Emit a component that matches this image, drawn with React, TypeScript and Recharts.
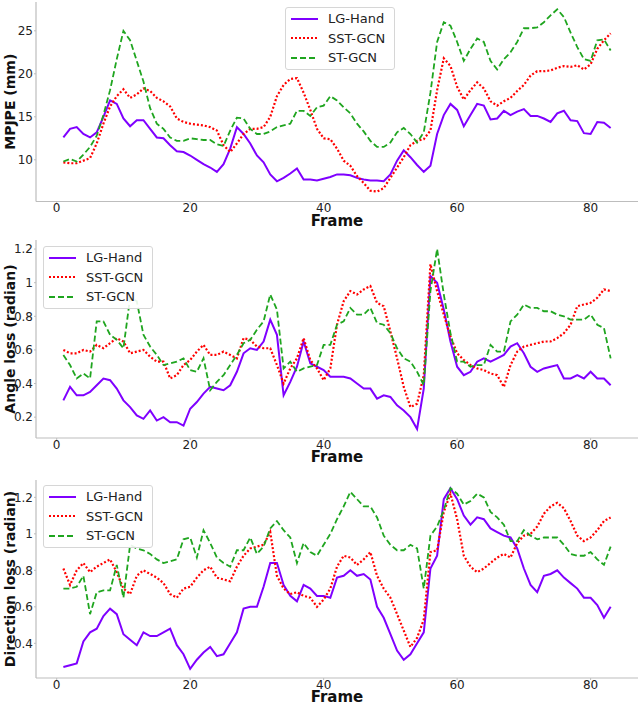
import React from 'react';
import { LineChart, Line, XAxis, YAxis, Legend } from 'recharts';

const frames = [
  1, 2, 3, 4, 5, 6, 7, 8, 9, 10, 11, 12, 13, 14, 15, 16, 17, 18, 19, 20,
  21, 22, 23, 24, 25, 26, 27, 28, 29, 30, 31, 32, 33, 34, 35, 36, 37, 38, 39, 40,
  41, 42, 43, 44, 45, 46, 47, 48, 49, 50, 51, 52, 53, 54, 55, 56, 57, 58, 59, 60,
  61, 62, 63, 64, 65, 66, 67, 68, 69, 70, 71, 72, 73, 74, 75, 76, 77, 78, 79, 80,
  81, 82, 83,
];
const xTicks = [0, 20, 40, 60, 80];

// MPJPE (mm)
const mpjpeLG = [
  12.6, 13.6, 13.8, 13.0, 12.6, 13.2, 15.0, 16.9, 16.5, 14.8,
  13.9, 14.6, 14.6, 13.6, 12.6, 12.5, 11.7, 11.0, 10.9, 10.5,
  10.0, 9.5, 9.1, 8.6, 9.5, 11.3, 13.8, 13.0, 11.9, 10.5,
  9.7, 8.3, 7.5, 7.9, 8.4, 9.0, 7.7, 7.7, 7.6, 7.8,
  8.0, 8.3, 8.3, 8.2, 7.9, 7.7, 7.6, 7.6, 7.5, 8.3,
  9.9, 11.1, 10.3, 9.4, 8.6, 9.3, 13.0, 15.2, 16.5, 15.8,
  13.9, 15.2, 16.5, 16.3, 14.7, 14.8, 15.7, 15.2, 15.6, 15.9,
  15.1, 15.1, 14.8, 14.4, 15.4, 15.7, 14.6, 14.5, 13.1, 13.0,
  14.4, 14.3, 13.7,
];
const mpjpeSST = [
  9.7, 9.6, 9.6, 9.9, 10.2, 11.9, 14.2, 16.2, 17.4, 18.2,
  17.2, 17.6, 18.3, 18.0, 17.2, 16.8, 16.2, 14.8, 14.4, 14.2,
  14.1, 14.0, 13.8, 13.4, 11.7, 10.9, 11.9, 13.0, 13.6, 13.6,
  13.8, 15.0, 17.4, 18.7, 19.4, 19.5, 17.8, 15.8, 13.6, 12.5,
  12.4, 11.3, 9.9, 9.3, 8.1, 7.3, 6.4, 6.3, 6.7, 7.9,
  9.1, 10.3, 11.7, 12.2, 12.4, 13.4, 18.1, 21.8, 20.9, 18.5,
  17.0, 18.1, 19.0, 18.3, 16.8, 16.3, 16.8, 17.2, 18.0, 18.7,
  19.8, 20.3, 20.3, 20.4, 20.7, 20.9, 20.8, 21.0, 20.5, 21.1,
  22.9, 23.9, 24.7,
];
const mpjpeST = [
  9.8, 10.1, 9.8, 10.6, 11.5, 12.8, 15.2, 18.1, 21.7, 25.0,
  23.9, 21.5, 19.1, 16.0, 14.2, 13.6, 12.6, 12.2, 12.2, 12.5,
  12.4, 12.3, 12.3, 11.8, 11.6, 13.4, 14.9, 14.8, 13.6, 13.0,
  13.0, 13.3, 13.8, 14.0, 14.2, 15.7, 15.7, 15.1, 16.1, 16.3,
  17.4, 16.9, 16.1, 15.4, 14.2, 13.3, 12.2, 11.5, 11.5, 12.0,
  13.2, 13.7, 13.0, 12.0, 13.2, 17.8, 23.7, 26.0, 25.6, 23.7,
  21.5, 22.9, 24.1, 23.7, 21.5, 20.5, 21.7, 22.5, 23.7, 25.3,
  25.3, 25.4, 26.0, 26.8, 27.5, 26.6, 24.8, 23.1, 21.7, 21.5,
  23.9, 24.0, 22.7,
];

// Angle loss (radian)
const angleLG = [
  0.30, 0.38, 0.33, 0.33, 0.35, 0.39, 0.43, 0.42, 0.37, 0.30,
  0.26, 0.21, 0.19, 0.24, 0.18, 0.20, 0.17, 0.17, 0.15, 0.25,
  0.29, 0.34, 0.38, 0.37, 0.36, 0.39, 0.47, 0.58, 0.61, 0.60,
  0.65, 0.78, 0.69, 0.33, 0.41, 0.50, 0.65, 0.52, 0.50, 0.48,
  0.44, 0.44, 0.44, 0.43, 0.40, 0.37, 0.37, 0.31, 0.33, 0.32,
  0.27, 0.24, 0.20, 0.13, 0.37, 1.04, 1.00, 0.84, 0.65, 0.50,
  0.45, 0.47, 0.53, 0.55, 0.53, 0.55, 0.57, 0.62, 0.64, 0.58,
  0.50, 0.47, 0.49, 0.50, 0.51, 0.43, 0.43, 0.45, 0.43, 0.47,
  0.43, 0.43, 0.39,
];
const angleSST = [
  0.60, 0.58, 0.58, 0.60, 0.59, 0.63, 0.61, 0.64, 0.67, 0.65,
  0.58, 0.59, 0.60, 0.56, 0.53, 0.53, 0.43, 0.45, 0.51, 0.54,
  0.59, 0.63, 0.57, 0.57, 0.59, 0.57, 0.55, 0.67, 0.66, 0.62,
  0.61, 0.61, 0.51, 0.40, 0.49, 0.55, 0.67, 0.54, 0.49, 0.42,
  0.49, 0.75, 0.89, 0.95, 0.93, 0.96, 0.98, 0.88, 0.86, 0.71,
  0.55, 0.38, 0.26, 0.28, 0.45, 1.11, 0.95, 0.81, 0.68, 0.58,
  0.54, 0.51, 0.49, 0.48, 0.46, 0.45, 0.38, 0.51, 0.59, 0.62,
  0.63, 0.64, 0.65, 0.65, 0.67, 0.70, 0.75, 0.86, 0.87, 0.88,
  0.91, 0.96, 0.95,
];
const angleST = [
  0.57, 0.51, 0.43, 0.46, 0.43, 0.77, 0.77, 0.69, 0.66, 0.61,
  0.91, 0.89, 0.69, 0.62, 0.57, 0.51, 0.52, 0.53, 0.55, 0.48,
  0.47, 0.55, 0.36, 0.41, 0.45, 0.51, 0.57, 0.64, 0.66, 0.72,
  0.77, 0.93, 0.84, 0.49, 0.53, 0.47, 0.49, 0.50, 0.51, 0.63,
  0.63, 0.75, 0.77, 0.85, 0.81, 0.81, 0.85, 0.76, 0.75, 0.70,
  0.61, 0.55, 0.53, 0.47, 0.39, 0.95, 1.20, 0.93, 0.70, 0.53,
  0.53, 0.50, 0.51, 0.51, 0.63, 0.59, 0.59, 0.77, 0.81, 0.87,
  0.85, 0.85, 0.83, 0.83, 0.81, 0.80, 0.78, 0.78, 0.78, 0.81,
  0.75, 0.73, 0.55,
];

// Direction loss (radian)
const dirLG = [
  0.27, 0.28, 0.29, 0.41, 0.46, 0.48, 0.55, 0.59, 0.56, 0.45,
  0.42, 0.39, 0.46, 0.44, 0.44, 0.46, 0.48, 0.39, 0.34, 0.26,
  0.31, 0.35, 0.38, 0.33, 0.34, 0.40, 0.46, 0.59, 0.60, 0.60,
  0.71, 0.84, 0.84, 0.72, 0.66, 0.63, 0.72, 0.70, 0.66, 0.66,
  0.65, 0.76, 0.77, 0.80, 0.77, 0.78, 0.75, 0.60, 0.54, 0.45,
  0.36, 0.31, 0.34, 0.40, 0.46, 0.81, 0.88, 1.19, 1.25, 1.19,
  1.10, 1.05, 1.09, 1.08, 1.03, 1.01, 0.99, 0.98, 0.92, 0.81,
  0.72, 0.68, 0.77, 0.78, 0.80, 0.76, 0.73, 0.70, 0.65, 0.65,
  0.61, 0.54, 0.60,
];
const dirSST = [
  0.81, 0.72, 0.80, 0.84, 0.79, 0.82, 0.84, 0.86, 0.79, 0.70,
  0.67, 0.77, 0.80, 0.78, 0.76, 0.73, 0.67, 0.65, 0.70, 0.71,
  0.76, 0.80, 0.82, 0.76, 0.75, 0.74, 0.82, 0.88, 0.92, 0.93,
  0.94, 1.01, 0.77, 0.70, 0.67, 0.68, 0.66, 0.65, 0.60, 0.64,
  0.70, 0.82, 0.88, 0.87, 0.83, 0.86, 0.90, 0.77, 0.70, 0.65,
  0.56, 0.47, 0.38, 0.43, 0.53, 0.90, 0.91, 1.12, 1.22, 1.08,
  0.88, 0.82, 0.79, 0.81, 0.84, 0.87, 0.89, 0.87, 0.95, 0.99,
  1.00, 1.04, 1.11, 1.15, 1.17, 1.14, 1.07, 0.99, 0.96, 0.98,
  1.02, 1.07, 1.09,
];
const dirST = [
  0.70, 0.70, 0.71, 0.77, 0.56, 0.68, 0.69, 0.69, 0.83, 0.65,
  0.94, 0.92, 0.91, 0.89, 0.86, 0.84, 0.85, 0.86, 0.97, 0.98,
  0.87, 1.02, 0.95, 0.87, 0.84, 0.82, 0.91, 0.91, 0.98, 0.89,
  0.93, 1.03, 1.07, 1.02, 0.98, 0.84, 0.95, 0.90, 0.88, 0.94,
  1.00, 1.08, 1.15, 1.23, 1.19, 1.15, 1.15, 1.09, 0.99, 0.94,
  0.91, 0.91, 0.94, 0.92, 0.70, 0.99, 1.04, 1.13, 1.25, 1.22,
  1.16, 1.18, 1.22, 1.20, 1.12, 1.09, 1.05, 0.96, 0.96, 1.02,
  0.99, 0.97, 0.98, 0.98, 0.98, 0.94, 0.89, 0.88, 0.88, 0.90,
  0.86, 0.83, 0.93,
];

const FONT = '"DejaVu Sans", sans-serif';
const FRAME_COLOR = '#bdbdbd';

const SERIES = [
  { key: 'lg', name: 'LG-Hand', color: '#7f00ff', width: 2, dash: undefined },
  { key: 'sst', name: 'SST-GCN', color: '#ff0000', width: 2.2, dash: '2 2' },
  { key: 'st', name: 'ST-GCN', color: '#1fa51f', width: 1.8, dash: '6 3' },
];

const buildRows = (lg: number[], sst: number[], st: number[]) =>
  frames.map((f, i) => ({ frame: f, lg: lg[i], sst: sst[i], st: st[i] }));

const LegendBox = ({ payload }: any) => (
  <div
    style={{
      border: '1px solid #d6d6d6',
      borderRadius: 3,
      background: 'rgba(255,255,255,0.9)',
      padding: '1px 9px 1px 5px',
      fontFamily: FONT,
      fontSize: 13,
      color: '#222',
    }}
  >
    {(payload || []).map((entry: any) => {
      const s = SERIES.find((x) => x.key === entry.dataKey) || SERIES[0];
      return (
        <div key={s.key} style={{ display: 'flex', alignItems: 'center', height: 19.5 }}>
          <svg width={27} height={6}>
            <line x1={0} y1={3} x2={27} y2={3} stroke={s.color} strokeWidth={2} strokeDasharray={s.dash} />
          </svg>
          <span style={{ marginLeft: 10 }}>{entry.value}</span>
        </div>
      );
    })}
  </div>
);

const YTitle = ({ viewBox, text }: any) => {
  const cx = viewBox.x + 10;
  const cy = viewBox.y + viewBox.height / 2;
  return (
    <text
      x={cx}
      y={cy}
      transform={`rotate(-90 ${cx} ${cy})`}
      textAnchor="middle"
      dominantBaseline="central"
      fontFamily={FONT}
      fontWeight="bold"
      fontSize={14}
      fill="#111"
    >
      {text}
    </text>
  );
};

const XTitle = ({ viewBox }: any) => (
  <text
    x={viewBox.x + viewBox.width / 2}
    y={viewBox.y + 19}
    textAnchor="middle"
    dominantBaseline="central"
    fontFamily={FONT}
    fontWeight="bold"
    fontSize={15}
    fill="#111"
  >
    Frame
  </text>
);

interface PanelProps {
  rows: any[];
  yLabel: string;
  yDomain: [number, number];
  yTicks: number[];
  top: number;
  margin: { top: number; bottom: number };
  legendPos: { left: number; top: number };
}

function Panel({ rows, yLabel, yDomain, yTicks, top, margin, legendPos }: PanelProps) {
  const tick = { fontFamily: FONT, fontSize: 12, fill: '#222' };
  return (
    <div style={{ position: 'absolute', left: 0, top }}>
      <LineChart
        width={640}
        height={235}
        data={rows}
        margin={{ top: margin.top, right: 2, bottom: margin.bottom, left: 0 }}
      >
        <XAxis
          dataKey="frame"
          type="number"
          domain={[-3.1, 87.1]}
          ticks={xTicks}
          allowDataOverflow
          height={26}
          tick={tick}
          tickSize={2}
          tickMargin={0}
          stroke={FRAME_COLOR}
          axisLine={{ stroke: FRAME_COLOR, strokeWidth: 1.2 }}
          label={(p: any) => <XTitle {...p} />}
        />
        <XAxis
          xAxisId="top"
          dataKey="frame"
          type="number"
          orientation="top"
          domain={[-3.1, 87.1]}
          allowDataOverflow
          height={0}
          tick={false}
          tickLine={false}
          axisLine={{ stroke: FRAME_COLOR, strokeWidth: 1.2 }}
        />
        <YAxis
          type="number"
          domain={yDomain}
          ticks={yTicks}
          allowDataOverflow
          width={36}
          tick={tick}
          tickSize={2}
          tickMargin={1}
          stroke={FRAME_COLOR}
          axisLine={{ stroke: FRAME_COLOR, strokeWidth: 1.2 }}
          label={(p: any) => <YTitle {...p} text={yLabel} />}
        />
        <YAxis
          yAxisId="right"
          orientation="right"
          type="number"
          domain={yDomain}
          allowDataOverflow
          width={0}
          tick={false}
          tickLine={false}
          axisLine={{ stroke: FRAME_COLOR, strokeWidth: 1.2 }}
        />
        <Legend
          layout="vertical"
          align="center"
          verticalAlign="middle"
          content={<LegendBox />}
          wrapperStyle={{ left: legendPos.left, top: legendPos.top, width: 'auto', height: 'auto' }}
        />
        {SERIES.map((s) => (
          <Line
            key={s.key}
            dataKey={s.key}
            name={s.name}
            type="linear"
            stroke={s.color}
            strokeWidth={s.width}
            strokeDasharray={s.dash}
            dot={false}
            activeDot={false}
            isAnimationActive={false}
          />
        ))}
      </LineChart>
    </div>
  );
}

export default function App() {
  return (
    <div style={{ position: 'absolute', left: 0, top: 0, width: 640, height: 705, background: '#fff' }}>
      <Panel
        rows={buildRows(mpjpeLG, mpjpeSST, mpjpeST)}
        yLabel="MPJPE (mm)"
        yDomain={[5.15, 28.35]}
        yTicks={[10, 15, 20, 25]}
        top={0}
        margin={{ top: 2, bottom: 7.5 }}
        legendPos={{ left: 285, top: 7 }}
      />
      <Panel
        rows={buildRows(angleLG, angleSST, angleST)}
        yLabel="Angle loss (radian)"
        yDomain={[0.076, 1.254]}
        yTicks={[0.2, 0.4, 0.6, 0.8, 1.0, 1.2]}
        top={235}
        margin={{ top: 5, bottom: 6 }}
        legendPos={{ left: 43, top: 11 }}
      />
      <Panel
        rows={buildRows(dirLG, dirSST, dirST)}
        yLabel="Direction loss (radian)"
        yDomain={[0.21, 1.295]}
        yTicks={[0.4, 0.6, 0.8, 1.0, 1.2]}
        top={470}
        margin={{ top: 10, bottom: 1 }}
        legendPos={{ left: 43, top: 15 }}
      />
    </div>
  );
}
